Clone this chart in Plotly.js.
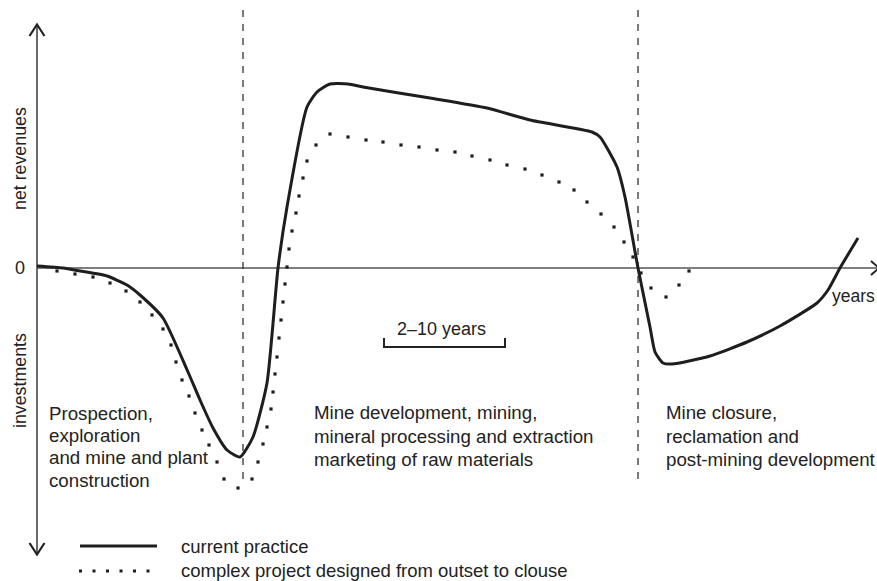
<!DOCTYPE html>
<html>
<head>
<meta charset="utf-8">
<script src="https://cdn.plot.ly/plotly-3.0.1.min.js"></script>
<style>
  html, body { margin: 0; padding: 0; background: #fff; }
  #chart { width: 877px; height: 581px; }
</style>
</head>
<body>
<div id="chart"></div>
<script>
// ---- Data (schematic units: x = time, y = net revenue (+) / investment (-)) ----
const solidX = [37,63,80,107,127,140,163,188,200,213,227,240,253,267,278,287,307,317,330,348,363,430,487,530,592,600,617,625,638,650,655,663,672,710,747,780,817,828,840,858];
const solidY = [2,0,-3,-8,-17,-27,-50,-104,-132,-160,-182,-189,-169,-115,0,61,161,176,184,184,181,170,160,148,136,131,101,71,0,-59,-84,-95,-96,-88,-74,-58,-35,-22,0,30];

const dotX = [57,75,93,110,126,140,152,163,171,176,182,189,195,202,209,217,224,238,252,258,263,267,271,273,275,277,279,281,283,285,287,289,292,296,299,303,307,316,330,348,366,383,401,419,437,455,472,490,507,525,542,559,574,587,601,614,624,633,641,651,666,679,689];
const dotY = [-3,-6,-9,-15,-23,-34,-47,-61,-77,-94,-112,-128,-145,-162,-177,-194,-211,-220,-211,-194,-176,-159,-141,-124,-106,-89,-70,-52,-34,-16,1,19,37,55,72,90,107,123,134,131,128,126,123,121,118,116,112,108,103,99,93,86,78,66,54,41,26,11,-5,-20,-29,-17,-3];

const seriesNames = ["current practice", "complex project designed from outset to clouse"];
const yAxisUp = "net revenues";
const yAxisDown = "investments";
const zeroLabel = "0";
const xAxisLabel = "years";
const phase1Lines = ["Prospection,", "exploration", "and mine and plant", "construction"];
const phase2Lines = ["Mine development, mining,", "mineral processing and extraction", "marketing of raw materials"];
const phase3Lines = ["Mine closure,", "reclamation and", "post-mining development"];
const scaleLabel = "2–10 years";

// ---- Layout helpers (pixel -> paper) ----
const W = 877, H = 581;
const px = v => v / W;
const py = v => 1 - v / H;
const FONT = "Liberation Sans, Arial, sans-serif";
const INK = "#1e1e1e";
const TXT = "#222";

const traces = [
  {
    x: solidX, y: solidY, type: "scatter", mode: "lines",
    line: { color: INK, width: 3, shape: "spline", smoothing: 0.55 },
    name: seriesNames[0], showlegend: false, hoverinfo: "skip"
  },
  {
    x: dotX, y: dotY, type: "scatter", mode: "markers",
    marker: { symbol: "square", size: 3.2, color: INK },
    name: seriesNames[1], showlegend: false, hoverinfo: "skip"
  }
];

function ann(text, x, y, opts) {
  return Object.assign({
    text: text, xref: "paper", yref: "paper", x: px(x), y: py(y),
    showarrow: false, xanchor: "left", yanchor: "middle", align: "left",
    font: { family: FONT, size: 18.7, color: TXT }
  }, opts || {});
}

const annotations = [];
const p1y = [413, 435, 457, 480];
phase1Lines.forEach((t, i) => annotations.push(ann(t, 47, p1y[i])));
const p2y = [412, 436, 459];
phase2Lines.forEach((t, i) => annotations.push(ann(t, 312, p2y[i])));
phase3Lines.forEach((t, i) => annotations.push(ann(t, 664, p2y[i])));
annotations.push(
  ann(scaleLabel, 442, 329, { xanchor: "center", font: { family: FONT, size: 18, color: TXT } }),
  ann(zeroLabel, 20, 268, { xanchor: "center", font: { family: FONT, size: 18, color: TXT } }),
  ann(xAxisLabel, 877, 296, { xanchor: "right", font: { family: FONT, size: 17.5, color: TXT } }),
  ann(yAxisUp, 20, 159, { xanchor: "center", textangle: -90, font: { family: FONT, size: 17.8, color: TXT } }),
  ann(yAxisDown, 20, 381, { xanchor: "center", textangle: -90, font: { family: FONT, size: 17.8, color: TXT } }),
  ann(seriesNames[0], 179, 546, { font: { family: FONT, size: 18.5, color: TXT } }),
  ann(seriesNames[1], 179, 570, { font: { family: FONT, size: 18.5, color: TXT } })
);

function seg(x0, y0, x1, y1, line, layer) {
  return { type: "line", xref: "paper", yref: "paper",
    x0: px(x0), y0: py(y0), x1: px(x1), y1: py(y1), line: line, layer: layer || "above" };
}
function path(pts, line) {
  const d = pts.map((p, i) => (i ? "L" : "M") + px(p[0]) + "," + py(p[1])).join(" ");
  return { type: "path", xref: "paper", yref: "paper", path: d, line: line };
}

const shapes = [
  // horizontal time axis (zero line)
  seg(37, 268, 877, 268, { color: "#555", width: 1.6 }, "below"),
  // vertical axis
  seg(37, 25, 37, 554, { color: "#444", width: 1.6 }, "below"),
  // arrowheads
  path([[29.5, 36], [37, 24.5], [44.5, 36]], { color: "#222", width: 2.2 }),
  path([[29.5, 543], [37, 554.5], [44.5, 543]], { color: "#222", width: 2.2 }),
  path([[871, 261], [879, 268], [871, 275]], { color: "#222", width: 2 }),
  // phase separators
  seg(243, 10, 243, 481, { color: "#333", width: 1.3, dash: "7px,7px" }, "below"),
  seg(638, 10, 638, 481, { color: "#333", width: 1.3, dash: "7px,7px" }, "below"),
  // scale bracket
  path([[384, 338], [384, 347], [505, 347], [505, 338]], { color: "#222", width: 2 }),
  // legend samples
  seg(80, 546, 157, 546, { color: INK, width: 3 }),
  seg(79, 571, 160, 571, { color: INK, width: 3, dash: "3px,10.5px" })
];

const layout = {
  width: W, height: H,
  margin: { l: 0, r: 0, t: 0, b: 0, pad: 0 },
  paper_bgcolor: "#fff", plot_bgcolor: "#fff",
  showlegend: false,
  xaxis: { range: [0, W], visible: false, fixedrange: true },
  yaxis: { range: [268 - H, 268], visible: false, fixedrange: true },
  annotations: annotations,
  shapes: shapes,
  font: { family: FONT }
};

Plotly.newPlot("chart", traces, layout, { displayModeBar: false, staticPlot: true });
</script>
</body>
</html>
